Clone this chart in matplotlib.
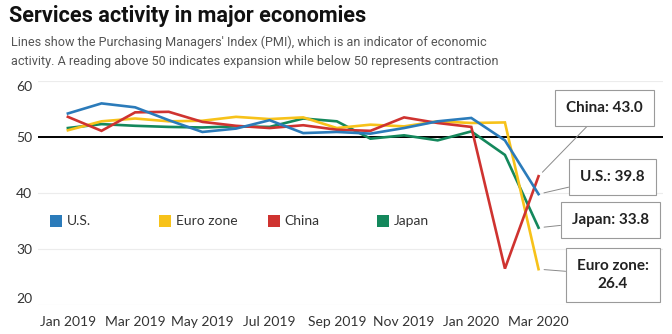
import matplotlib.pyplot as plt
from matplotlib.patches import Rectangle
import numpy as np

months = ["Jan 2019", "Feb 2019", "Mar 2019", "Apr 2019", "May 2019", "Jun 2019",
          "Jul 2019", "Aug 2019", "Sep 2019", "Oct 2019", "Nov 2019", "Dec 2019",
          "Jan 2020", "Feb 2020", "Mar 2020"]
tick_labels = ["Jan 2019", "Mar 2019", "May 2019", "Jul 2019", "Sep 2019",
               "Nov 2019", "Jan 2020", "Mar 2020"]

us = [54.2, 56.0, 55.3, 53.0, 50.9, 51.5, 53.0, 50.7, 50.9, 50.6, 51.6, 52.8, 53.4, 49.4, 39.8]
euro_zone = [51.2, 52.8, 53.3, 52.8, 52.9, 53.6, 53.2, 53.5, 51.6, 52.2, 51.9, 52.8, 52.5, 52.6, 26.4]
china = [53.6, 51.1, 54.4, 54.5, 52.7, 52.0, 51.6, 52.1, 51.3, 51.1, 53.5, 52.5, 51.8, 26.5, 43.0]
japan = [51.6, 52.3, 52.0, 51.8, 51.7, 51.9, 51.8, 53.3, 52.8, 49.7, 50.3, 49.4, 51.0, 46.8, 33.8]

series_names = ["U.S.", "Euro zone", "China", "Japan"]
series_values = [us, euro_zone, china, japan]
colors = ["#2b7bba", "#f7c21a", "#cf3330", "#14885c"]

callouts = {"China": "China: 43.0", "U.S.": "U.S.: 39.8",
            "Japan": "Japan: 33.8", "Euro zone": "Euro zone:\n26.4"}
callout_pos = {"China": (0.907, 0.879), "U.S.": (0.919, 0.571),
               "Japan": (0.916, 0.379), "Euro zone": (0.92, 0.134)}

plt.rcParams['font.family'] = ['Lato', 'DejaVu Sans']

fig = plt.figure(figsize=(6.72, 3.34), dpi=100)
ax = fig.add_axes([0.0565, 0.0868, 0.93, 0.6707])

x = np.arange(len(months))
for i in [3, 1, 2, 0]:
    ax.plot(x, series_values[i], color=colors[i], linewidth=1.9, solid_joinstyle="miter", zorder=3)

ax.axhline(50, color="black", linewidth=1.4, zorder=2)

ax.set_xlim(-0.89, 17.7)
ax.set_ylim(20, 60)
ax.set_yticks([20, 30, 40, 50, 60])
ax.set_xticks(x[::2])
ax.set_xticklabels(tick_labels)
ax.yaxis.grid(True, color="#ececec", linewidth=0.8)
ax.tick_params(length=0, labelsize=10, colors="#333333")
ax.tick_params(axis="y", pad=4)
ax.tick_params(axis="x", pad=8)
for s in ax.spines.values():
    s.set_visible(False)
ylabels = ax.get_yticklabels()
ylabels[0].set_va("bottom")
ylabels[-1].set_va("top")

# legend
for k, name in enumerate(series_names):
    x0 = 0.0192 + k * 0.1744
    ax.add_patch(Rectangle((x0, 0.348), 0.0192, 0.0536, transform=ax.transAxes,
                           facecolor=colors[k], edgecolor="none", zorder=4))
    ax.text(x0 + 0.027, 0.375, name, transform=ax.transAxes, fontsize=10,
            color="#333333", va="center", ha="left")

# end-point callouts
for k, name in enumerate(series_names):
    ax.annotate(callouts[name], xy=(x[-1], series_values[k][-1]), xycoords="data",
                xytext=callout_pos[name], textcoords="axes fraction",
                ha="center", va="center", fontsize=11, fontweight="bold",
                color="#222222", linespacing=1.45,
                bbox=dict(boxstyle="square,pad=0.72", facecolor="white",
                          edgecolor="#9a9a9a", linewidth=0.8),
                arrowprops=dict(arrowstyle="-", color="#8a8a8a", linewidth=0.7,
                                shrinkA=0, shrinkB=4),
                zorder=5)

fig.text(0.014, 0.985, "Services activity in major economies", fontsize=15.6,
         fontweight="bold", color="#111111", va="top", ha="left",
         family=["Roboto", "DejaVu Sans"])
fig.text(0.016, 0.893, "Lines show the Purchasing Managers' Index (PMI), which is an indicator of economic\n"
         "activity. A reading above 50 indicates expansion while below 50 represents contraction",
         fontsize=9.1, color="#555555", va="top", ha="left", linespacing=1.55,
         family=["Roboto", "DejaVu Sans"])

fig.savefig("out.png", dpi=100)
